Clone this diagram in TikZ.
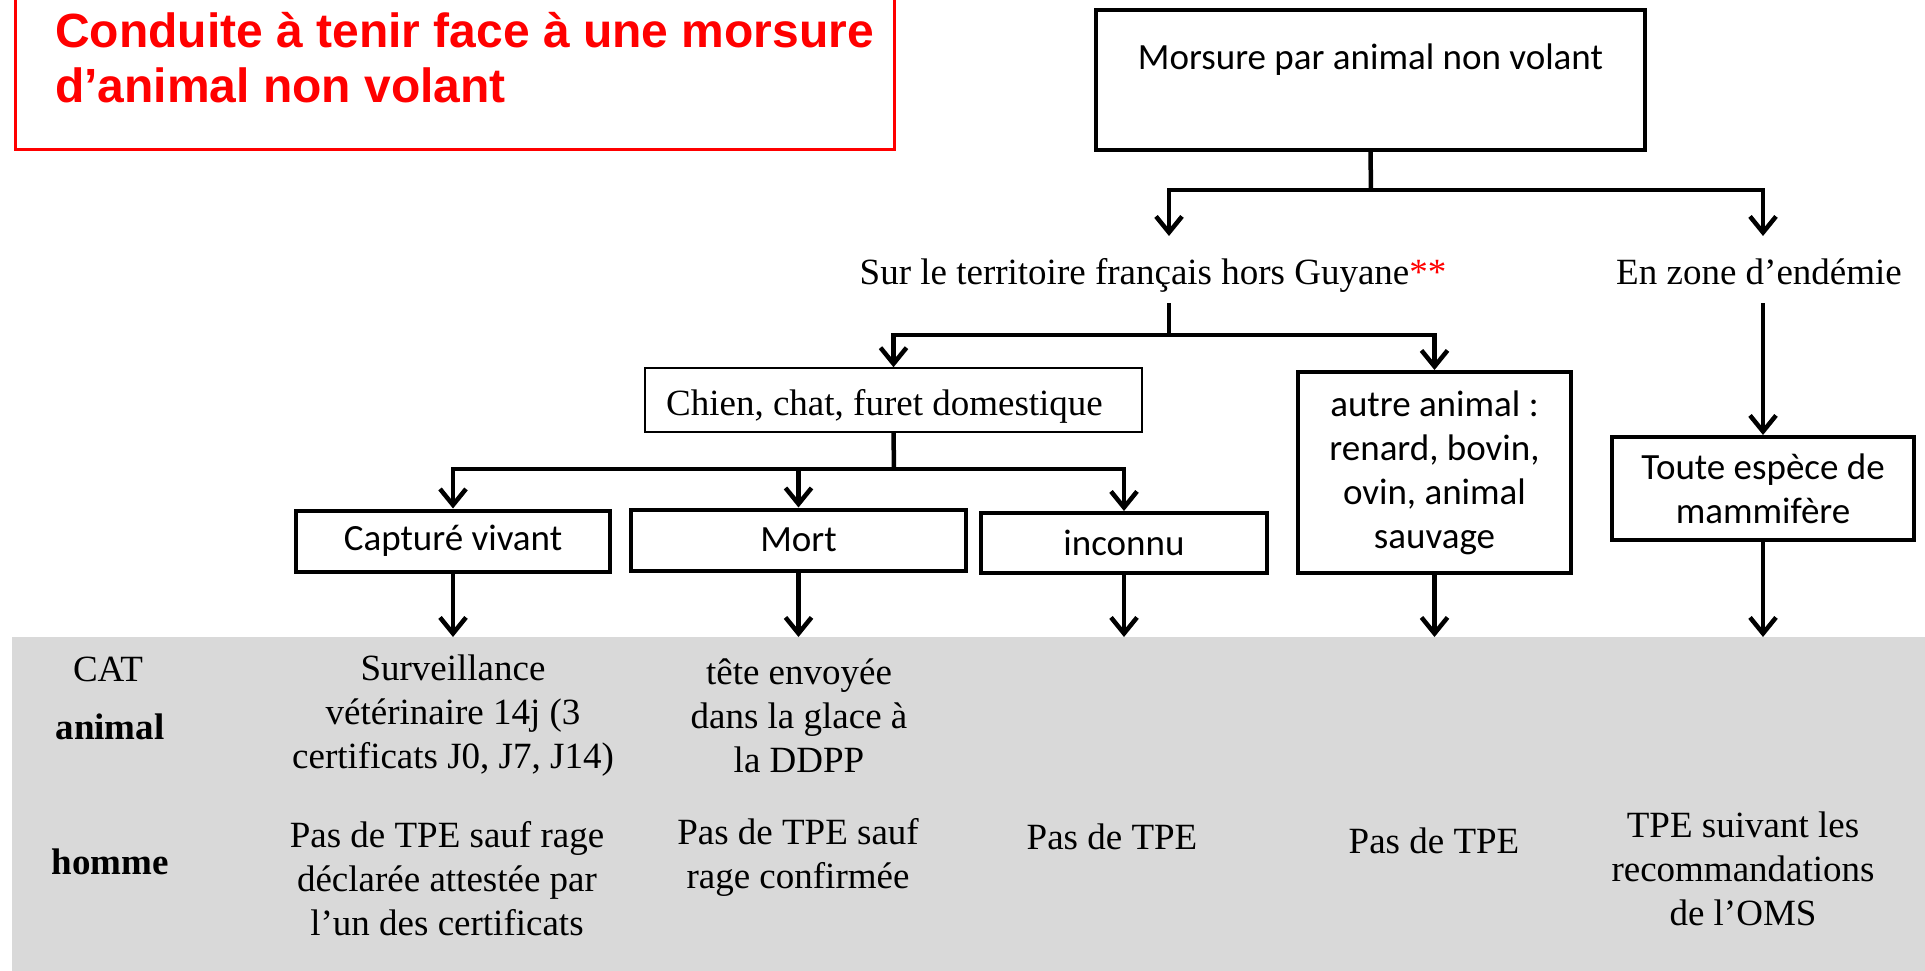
\documentclass[tikz,border=0pt]{standalone}
\usepackage{fontspec}
\setmainfont{Liberation Serif}
\newfontfamily\boxfont{Carlito}
\newfontfamily\headfont{Liberation Sans}
\usetikzlibrary{arrows.meta}
\definecolor{bandgrey}{HTML}{D9D9D9}
\definecolor{alertred}{HTML}{FF0000}
\tikzset{
  heavybox/.style={draw, line width=4pt, rectangle, inner sep=0pt, align=center,
    font=\boxfont\fontsize{37}{44}\selectfont},
  lightbox/.style={draw, line width=1.5pt, rectangle, inner sep=0pt, align=center,
    font=\fontsize{37}{44}\selectfont},
  serif/.style={inner sep=0pt, align=center, font=\fontsize{37}{44}\selectfont},
  link/.style={line width=4.5pt, line join=miter},
  arr/.style={link, -{Straight Barb[length=16pt,width=26pt]}},
}
\begin{document}
\begin{tikzpicture}[x=1pt, y=-1pt]
\useasboundingbox (0,0) rectangle (1925,971);

% heading
\draw[alertred, line width=3pt] (15,-20) rectangle (894,150);
\node[anchor=west, align=left, inner sep=0pt, text=alertred,
      font=\headfont\bfseries\fontsize{48}{55}\selectfont] (title) at (55,58)
  {Conduite à tenir face à une morsure\\d’animal non volant};

% shaded conduct band
\node[fill=bandgrey, draw=none, minimum width=1913pt, minimum height=334pt,
      anchor=north west, inner sep=0pt] (band) at (12,637) {};

% top of the tree
\node[heavybox, minimum width=549pt, text height=60pt, text depth=80pt] (top) at (1370.5,80)
  {Morsure par animal non volant};
\coordinate (j1) at (1371,190);
\coordinate (surin) at (1169,236);
\coordinate (endin) at (1763,236);
\node[serif, anchor=base] (sur) at (1153,284) {Sur le territoire français hors Guyane\textcolor{alertred}{**}};
\node[serif, anchor=base] (endemie) at (1759,284) {En zone d’endémie};
\coordinate (surout) at (1169,303);
\coordinate (endout) at (1763,303);
\coordinate (j2) at (1169,335);

\draw[link] (top.south) -- (j1);
\draw[arr] (j1) -| (surin);
\draw[arr] (j1) -| (endin);

% second level
\node[lightbox, minimum width=497pt, text height=47pt, text depth=17pt] (chien) at (893.5,400)
  {Chien, chat, furet domestique\hspace{18pt}};
\node[heavybox, minimum width=273pt, minimum height=201pt] (autre) at (1434.5,472.5)
  {autre animal :\\renard, bovin,\\ovin, animal\\sauvage};
\node[heavybox, minimum width=302pt, minimum height=103pt] (toute) at (1763,488.5)
  {Toute espèce de\\mammifère};

\draw[link] (surout) -- (j2);
\draw[arr] (j2) -| (chien.north);
\draw[arr] (j2) -| (autre.north);
\draw[arr] (endout) -- (toute.north);

% third level
\coordinate (j3) at (894,469);
\node[heavybox, minimum width=314pt, minimum height=61pt] (capt) at (453,541) {Capturé vivant};
\node[heavybox, minimum width=335pt, minimum height=61pt] (mort) at (798.5,540) {Mort};
\node[heavybox, minimum width=286pt, minimum height=60pt] (inc) at (1124,543) {inconnu};

\draw[link] (chien.south) -- (j3);
\draw[arr] (j3) -| (capt.north);
\draw[arr] (j3) -| (mort.north);
\draw[arr] (j3) -| (inc.north);

% arrows into the band
\foreach \n in {capt,mort,inc,autre,toute}
  \draw[arr] (\n.south) -- (\n.south |- band.north);

% band contents
\node[serif] (cat) at (108,669) {CAT};
\node[serif, font=\bfseries\fontsize{37}{44}\selectfont] (animal) at (110,727) {animal};
\node[serif, font=\bfseries\fontsize{37}{44}\selectfont] (homme) at (110,862) {homme};

\node[serif] (surv) at (453,716) {Surveillance\\vétérinaire 14j (3\\certificats J0, J7, J14)};
\node[serif] (tete) at (799,716) {tête envoyée\\dans la glace à\\la DDPP};

\node[serif] (h1) at (447,879) {Pas de TPE sauf rage\\déclarée attestée par\\l’un des certificats};
\node[serif] (h2) at (798,857) {Pas de TPE sauf\\rage confirmée};
\node[serif] (h3) at (1112,837) {Pas de TPE};
\node[serif] (h4) at (1434,841) {Pas de TPE};
\node[serif] (h5) at (1743,869) {TPE suivant les\\recommandations\\de l’OMS};
\end{tikzpicture}
\end{document}
